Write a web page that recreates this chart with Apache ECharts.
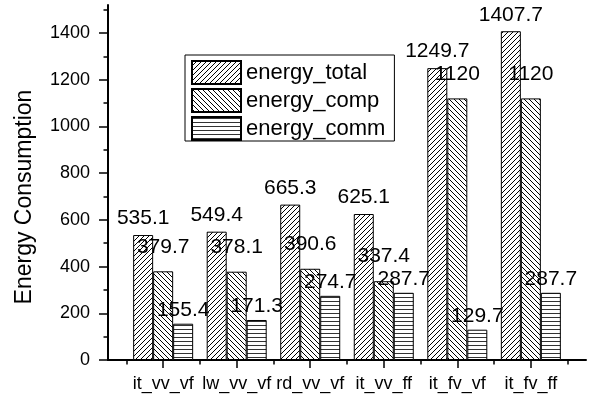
<!DOCTYPE html>
<html><head><meta charset="utf-8">
<script src="https://cdn.jsdelivr.net/npm/echarts@6/dist/echarts.min.js"></script>
<style>html,body{margin:0;padding:0;background:#fff}#c{width:590px;height:399px}</style>
</head><body><div id="c"></div>
<script>
const categories = ['it_vv_vf','lw_vv_vf','rd_vv_vf','it_vv_ff','it_fv_vf','it_fv_ff'];
const seriesNames = ['energy_total','energy_comp','energy_comm'];
const energyTotal = [535.1, 549.4, 665.3, 625.1, 1249.7, 1407.7];
const energyComp  = [379.7, 378.1, 390.6, 337.4, 1120, 1120];
const energyComm  = [155.4, 171.3, 274.7, 287.7, 129.7, 287.7];
const yMajorTicks = [0, 200, 400, 600, 800, 1000, 1200, 1400];
const yMinorTicks = [100, 300, 500, 700, 900, 1100, 1300, 1500];

const FONT = "'Liberation Sans', Arial, sans-serif";
const xPos = categories.map((c, i) => i + 1);
const xMinor = [0.5, 1.5, 2.5, 3.5, 4.5, 5.5, 6.5];

function pattern(kind) {
  const s = kind === 'horiz' ? 4 : 5;
  const c = document.createElement('canvas');
  c.width = s; c.height = s;
  const g = c.getContext('2d');
  g.fillStyle = '#fff'; g.fillRect(0, 0, s, s);
  g.strokeStyle = '#000'; g.lineWidth = 1;
  g.beginPath();
  if (kind === 'fwd') {
    g.moveTo(0, s); g.lineTo(s, 0);
    g.moveTo(-1, 1); g.lineTo(1, -1);
    g.moveTo(s - 1, s + 1); g.lineTo(s + 1, s - 1);
  } else if (kind === 'back') {
    g.moveTo(0, 0); g.lineTo(s, s);
    g.moveTo(-1, s - 1); g.lineTo(1, s + 1);
    g.moveTo(s - 1, -1); g.lineTo(s + 1, 1);
  } else {
    g.strokeStyle = '#333';
    g.moveTo(0, 1.5); g.lineTo(s, 1.5);
  }
  g.stroke();
  return { image: c, repeat: 'repeat' };
}

const seriesData = [energyTotal, energyComp, energyComm];
const patterns = ['fwd', 'back', 'horiz'];
const labelDist = [6, 14, 3];

const chart = echarts.init(document.getElementById('c'), null, { renderer: 'canvas' });
chart.setOption({
  animation: false,
  backgroundColor: '#fff',
  textStyle: { fontFamily: FONT, color: '#000' },
  grid: { left: 108, right: 4, top: 5, bottom: 39, outerBoundsMode: 'none', containLabel: false },
  legend: {
    orient: 'vertical', left: 185, top: 55,
    itemWidth: 49, itemHeight: 23, itemGap: 3,
    padding: [5, 9, 0, 6],
    borderColor: '#000', borderWidth: 1,
    icon: 'rect',
    textStyle: { fontSize: 22, color: '#000', fontFamily: FONT },
    data: seriesNames
  },
  xAxis: [{
    type: 'value', min: 0.25, max: 6.75,
    axisLine: { show: true, lineStyle: { color: '#000', width: 2 } },
    axisTick: { show: true, length: 8, lineStyle: { color: '#000', width: 1.5 }, customValues: xPos },
    axisLabel: { show: true, fontSize: 18, color: '#000', fontFamily: FONT, margin: 15, customValues: xPos,
      formatter: v => categories[Math.round(v) - 1] || '' },
    splitLine: { show: false }
  }, {
    type: 'value', min: 0.25, max: 6.75, position: 'bottom',
    axisLine: { show: false },
    axisTick: { show: true, length: 4.5, lineStyle: { color: '#000', width: 1.5 }, customValues: xMinor },
    axisLabel: { show: false },
    splitLine: { show: false }
  }],
  yAxis: [{
    type: 'value', min: 0, max: 1520,
    axisLine: { show: true, lineStyle: { color: '#000', width: 2 } },
    axisTick: { show: true, length: 9, lineStyle: { color: '#000', width: 1.5 }, customValues: yMajorTicks },
    axisLabel: { show: true, fontSize: 18, color: '#000', fontFamily: FONT, margin: 18, customValues: yMajorTicks,
      formatter: v => String(v) },
    splitLine: { show: false }
  }, {
    type: 'value', min: 0, max: 1520, position: 'left',
    axisLine: { show: false },
    axisTick: { show: true, length: 4.5, lineStyle: { color: '#000', width: 1.5 }, customValues: yMinorTicks },
    axisLabel: { show: false },
    splitLine: { show: false }
  }],
  graphic: [{
    type: 'text', x: 25, y: 197, rotation: Math.PI / 2,
    style: { text: 'Energy Consumption', x: 0, y: 0, align: 'center', verticalAlign: 'middle',
      font: "23px 'Liberation Sans', Arial, sans-serif", fill: '#000' }
  }],
  series: seriesNames.map((name, k) => ({
    name, type: 'bar',
    xAxisIndex: 0, yAxisIndex: 0,
    barWidth: 20, barGap: '0%',
    data: seriesData[k].map((v, i) => [xPos[i], v]),
    itemStyle: { color: pattern(patterns[k]), borderColor: '#000', borderWidth: 1 },
    label: {
      show: true, position: 'top', distance: labelDist[k],
      fontSize: 21, color: '#000', fontFamily: FONT,
      formatter: p => String(p.value[1])
    }
  }))
});
</script>
</body></html>
